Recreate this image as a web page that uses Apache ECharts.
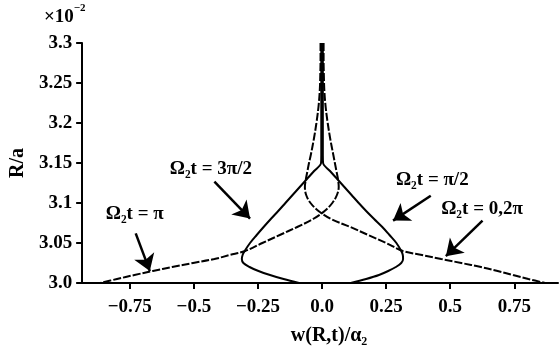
<!DOCTYPE html>
<html>
<head>
<meta charset="utf-8">
<script src="https://cdn.jsdelivr.net/npm/echarts@6/dist/echarts.min.js"></script>
<style>
  html, body { margin: 0; padding: 0; background: #fff; }
  #chart { width: 560px; height: 351px; }
</style>
</head>
<body>
<div id="chart"></div>
<script>
// Radial coordinate R/a (×10^-2) shared by every curve
const rValues = [3.30, 3.28, 3.26, 3.24, 3.22, 3.20, 3.18, 3.16, 3.15, 3.14, 3.13, 3.12,
                 3.11, 3.10, 3.09, 3.08, 3.07, 3.06, 3.05, 3.04, 3.035, 3.03, 3.025, 3.02,
                 3.015, 3.01, 3.005, 3.00];

// Deflection w(R,t)/α2 at each R for the four instants
const wZero2Pi = [-0.006, -0.006, -0.007, -0.009, -0.014, -0.022, -0.032, -0.044, -0.051, -0.057, -0.063, -0.067,
                  -0.062, -0.045, -0.014, 0.035, 0.110, 0.180, 0.250, 0.315, 0.390, 0.465, 0.543, 0.620,
                  0.685, 0.745, 0.805, 0.870];
const wPi      = [0.006, 0.006, 0.007, 0.009, 0.014, 0.022, 0.032, 0.044, 0.050, 0.056, 0.062, 0.065,
                  0.058, 0.040, 0.010, -0.035, -0.097, -0.165, -0.233, -0.300, -0.360, -0.420, -0.503, -0.585,
                  -0.660, -0.732, -0.800, -0.865];
const wHalfPi  = [0.003, 0.003, 0.003, 0.003, 0.003, 0.003, 0.003, 0.003, 0.004, 0.031, 0.059, 0.087,
                  0.115, 0.143, 0.172, 0.203, 0.235, 0.263, 0.290, 0.309, 0.315, 0.316, 0.309, 0.288,
                  0.258, 0.222, 0.172, 0.112];
const w3HalfPi = [-0.003, -0.003, -0.003, -0.003, -0.003, -0.003, -0.003, -0.003, -0.004, -0.031, -0.059, -0.087,
                  -0.115, -0.143, -0.171, -0.200, -0.228, -0.255, -0.281, -0.302, -0.310, -0.313, -0.307, -0.283,
                  -0.248, -0.203, -0.150, -0.090];

// Axis ticks
const xTicks = [-0.75, -0.5, -0.25, 0, 0.25, 0.5, 0.75];
const xTickLabels = ['\u22120.75', '\u22120.5', '\u22120.25', '0.0', '0.25', '0.5', '0.75'];
const yTickLabels = { 3.0: '3.0', 3.05: '3.05', 3.1: '3.1', 3.15: '3.15', 3.2: '3.2', 3.25: '3.25', 3.3: '3.3' };

// Curve annotations: label centre and arrow (from -> tip), in data units
const annoText  = ['\u03A9\u2082t = \u03C0', '\u03A9\u2082t = 3\u03C0/2', '\u03A9\u2082t = \u03C0/2', '\u03A9\u2082t = 0,2\u03C0'];
const annoAt    = [[-0.731, 3.0856], [-0.434, 3.1427], [0.430, 3.129], [0.624, 3.093]];
const arrowFrom = [[-0.727, 3.062], [-0.420, 3.1266], [0.424, 3.109], [0.626, 3.078]];
const arrowTo   = [[-0.672, 3.0149], [-0.281, 3.0806], [0.277, 3.078], [0.483, 3.0335]];

const FONT = 'Liberation Serif';
const pairs = w => w.map((v, i) => [v, rValues[i]]);

function curve(name, w, dashed) {
  return {
    name: name,
    type: 'line',
    data: pairs(w),
    smooth: 0.35,
    showSymbol: false,
    symbol: 'none',
    lineStyle: { color: '#000', width: 2, type: dashed ? [8, 2] : 'solid' },
    z: 3
  };
}

const chart = echarts.init(document.getElementById('chart'), null, { renderer: 'canvas' });

const series = [
  curve('0,2π', wZero2Pi, true),
  curve('π', wPi, true),
  curve('π/2', wHalfPi, false),
  curve('3π/2', w3HalfPi, false)
];

// annotation layer: labels and arrows
series.push({
  type: 'line',
  data: [],
  symbol: 'none',
  silent: true,
  markPoint: {
    symbol: 'circle',
    symbolSize: 0,
    silent: true,
    label: {
      show: true,
      position: 'inside',
      color: '#000',
      fontFamily: FONT,
      fontWeight: 'bold',
      fontSize: 19
    },
    data: annoText.map((t, i) => ({ coord: annoAt[i], value: t, label: { formatter: t } }))
  },
  markLine: {
    silent: true,
    symbol: ['none', 'arrow'],
    symbolSize: 16,
    label: { show: false },
    lineStyle: { color: '#000', width: 2.5, type: 'solid' },
    data: arrowFrom.map((p, i) => [{ coord: p }, { coord: arrowTo[i] }])
  }
});

chart.setOption({
  animation: false,
  backgroundColor: '#fff',
  grid: { left: 79, right: 2, top: 43, bottom: 66, containLabel: false },
  xAxis: {
    type: 'value',
    min: -0.936,
    max: 0.9205,
    name: 'w(R,t)/\u03B1\u2082',
    nameLocation: 'middle',
    nameGap: 43,
    nameTextStyle: { color: '#000', fontFamily: FONT, fontWeight: 'bold', fontSize: 20, padding: [0, 0, 0, 18] },
    axisLine: { show: true, onZero: false, lineStyle: { color: '#000', width: 2 } },
    axisTick: { show: true, customValues: xTicks, length: 6, lineStyle: { color: '#000', width: 2 } },
    axisLabel: {
      customValues: xTicks,
      margin: 15,
      color: '#000',
      fontFamily: FONT,
      fontWeight: 'bold',
      fontSize: 19,
      formatter: v => xTickLabels[xTicks.findIndex(t => Math.abs(t - v) < 1e-6)]
    },
    splitLine: { show: false }
  },
  yAxis: {
    type: 'value',
    min: 3.0,
    max: 3.3,
    interval: 0.05,
    name: 'R/a',
    nameLocation: 'middle',
    nameRotate: 90,
    nameGap: 52,
    nameTextStyle: { color: '#000', fontFamily: FONT, fontWeight: 'bold', fontSize: 20 },
    axisLine: { show: true, onZero: false, lineStyle: { color: '#000', width: 2 } },
    axisTick: { show: true, length: 6, lineStyle: { color: '#000', width: 2 } },
    axisLabel: {
      margin: 10,
      color: '#000',
      fontFamily: FONT,
      fontWeight: 'bold',
      fontSize: 19,
      formatter: v => yTickLabels[Math.round(v * 100) / 100]
    },
    splitLine: { show: false }
  },
  graphic: [{
    type: 'text',
    left: 44,
    top: 3,
    style: {
      text: '{m|\u00D710}{s|\u22122}',
      rich: {
        m: { fontFamily: FONT, fontWeight: 'bold', fontSize: 19, fill: '#000', lineHeight: 24, verticalAlign: 'bottom' },
        s: { fontFamily: FONT, fontWeight: 'bold', fontSize: 11, fill: '#000', lineHeight: 24, verticalAlign: 'top' }
      }
    }
  }],
  series: series
});
</script>
</body>
</html>
